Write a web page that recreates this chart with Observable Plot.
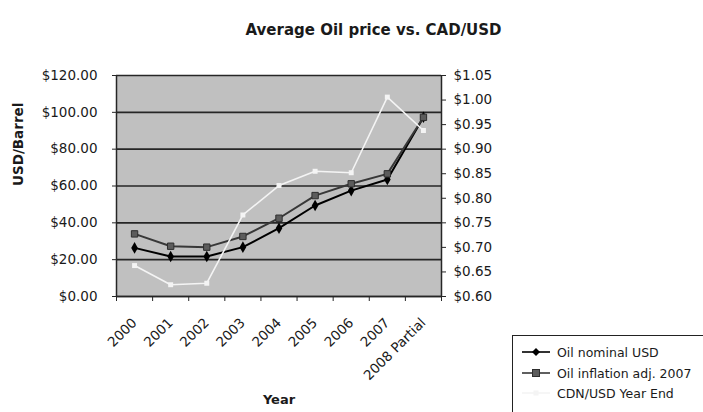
<!DOCTYPE html>
<html><head><meta charset="utf-8">
<script src="https://cdn.jsdelivr.net/npm/d3@7"></script>
<script src="https://cdn.jsdelivr.net/npm/@observablehq/plot@0.6"></script>
<style>
html,body{margin:0;padding:0;background:#fff;}
#wrap{position:relative;width:703px;height:412px;overflow:hidden;font-family:"DejaVu Sans",sans-serif;color:#1a1a1a;}
#legend{position:absolute;left:512px;top:335px;width:220px;height:100px;border:1.5px solid #222;background:#fff;box-sizing:border-box;}
.item{position:absolute;left:8px;height:20px;display:flex;align-items:center;font-size:12.5px;white-space:nowrap;}
.item svg{margin-right:6px;}
</style>
</head><body>
<div id="wrap"><div id="chart"></div>
<div id="legend"></div>
</div>
<script>
const years = ["2000","2001","2002","2003","2004","2005","2006","2007","2008 Partial"];
const oilNominal = [26.4, 21.7, 21.7, 26.8, 37.1, 49.4, 57.5, 63.5, 97.3];
const oilAdjusted = [34.0, 27.3, 26.8, 32.6, 42.5, 54.8, 61.2, 66.6, 97.3];
const cadUsd = [0.663, 0.624, 0.627, 0.766, 0.826, 0.855, 0.852, 1.006, 0.938];
const leftTicks = [0, 20, 40, 60, 80, 100, 120];
const rightTicks = [0.60, 0.65, 0.70, 0.75, 0.80, 0.85, 0.90, 0.95, 1.00, 1.05];
const seriesNames = ["Oil nominal USD", "Oil inflation adj. 2007", "CDN/USD Year End"];
const titleText = "Average Oil price vs. CAD/USD";
const yLabel = "USD/Barrel";
const xLabel = "Year";

const rMin = 0.60, rMax = 1.05, lMax = 120;
const cadToY = v => (v - rMin) / (rMax - rMin) * lMax;
const yToCad = y => rMin + y / lMax * (rMax - rMin);

const idx = d3.range(years.length);
const nominal = idx.map(i => ({x: i, y: oilNominal[i]}));
const adjusted = idx.map(i => ({x: i, y: oilAdjusted[i]}));
const cad = idx.map(i => ({x: i, y: cadToY(cadUsd[i])}));

const chart = Plot.plot({
  width: 703, height: 412,
  marginLeft: 116, marginRight: 262, marginTop: 75, marginBottom: 116,
  style: {fontFamily: "DejaVu Sans, sans-serif", fontSize: "13.5px", color: "#1a1a1a", background: "#fff"},
  x: {type: "linear", domain: [-0.5, years.length - 0.5]},
  y: {domain: [0, lMax]},
  marks: [
    Plot.frame({fill: "#c0c0c0", stroke: "#808080"}),
    Plot.gridY(leftTicks, {stroke: "#262626", strokeWidth: 1.6, strokeOpacity: 1}),
    Plot.ruleY([0], {stroke: "#262626", strokeWidth: 1.5}),
    Plot.ruleX([-0.5, years.length - 0.5], {stroke: "#262626", strokeWidth: 1.5}),
    Plot.line(nominal, {x: "x", y: "y", stroke: "#000", strokeWidth: 2}),
    Plot.dot(nominal, {x: "x", y: "y", symbol: "diamond", fill: "#000", r: 3.5}),
    Plot.line(adjusted, {x: "x", y: "y", stroke: "#383838", strokeWidth: 2}),
    Plot.dot(adjusted, {x: "x", y: "y", symbol: "square", fill: "#5c5c5c", stroke: "#2e2e2e", strokeWidth: 1, r: 3.6}),
    Plot.line(cad, {x: "x", y: "y", stroke: "#f4f4f4", strokeWidth: 1.6}),
    Plot.dot(cad, {x: "x", y: "y", symbol: "square", fill: "#f4f4f4", r: 2.8}),
    Plot.axisY(leftTicks, {anchor: "left", tickSize: 4, tickPadding: 15, tickFormat: d => "$" + d.toFixed(2), label: null, stroke: "#262626"}),
    Plot.axisY(rightTicks.map(cadToY), {anchor: "right", tickSize: 4, tickPadding: 8, tickFormat: d => "$" + yToCad(d).toFixed(2), label: null, stroke: "#262626"}),
    Plot.axisX(d3.range(-0.5, years.length, 1), {anchor: "bottom", tickSize: 5, tickFormat: () => "", label: null, stroke: "#262626"}),
    Plot.axisX(idx, {anchor: "bottom", tickSize: 0, tickPadding: 24, tickRotate: -45, textAnchor: "end", lineAnchor: "middle", tickFormat: i => years[i], label: null}),
    Plot.text([xLabel], {frameAnchor: "bottom", dy: 107, text: d => d, fontWeight: "bold", fontSize: 13}),
    Plot.text([yLabel], {frameAnchor: "left", dx: -98, rotate: -90, text: d => d, fontWeight: "bold", fontSize: 13.5}),
    Plot.text([titleText], {frameAnchor: "top", dx: 94.5, dy: -51, text: d => d, fontWeight: "bold", fontSize: 15})
  ]
});
document.getElementById("chart").appendChild(chart);

// legend
const legend = document.getElementById("legend");
const sw = [
  {stroke: "#000", mark: '<path d="M15,5 L19,9 L15,13 L11,9 Z" fill="#000"/>'},
  {stroke: "#383838", mark: '<rect x="11.5" y="5.5" width="7" height="7" fill="#5c5c5c" stroke="#2e2e2e"/>'},
  {stroke: "#f4f4f4", mark: '<rect x="12.5" y="6.5" width="5" height="5" fill="#f4f4f4"/>'}
];
const tops = [6, 27, 47];
seriesNames.forEach((name, i) => {
  const d = document.createElement("div");
  d.className = "item";
  d.style.top = tops[i] + "px";
  d.innerHTML = `<svg width="30" height="18"><line x1="1" y1="9" x2="29" y2="9" stroke="${sw[i].stroke}" stroke-width="1.6"/>${sw[i].mark}</svg><span>${name}</span>`;
  legend.appendChild(d);
});
</script>
</body></html>
